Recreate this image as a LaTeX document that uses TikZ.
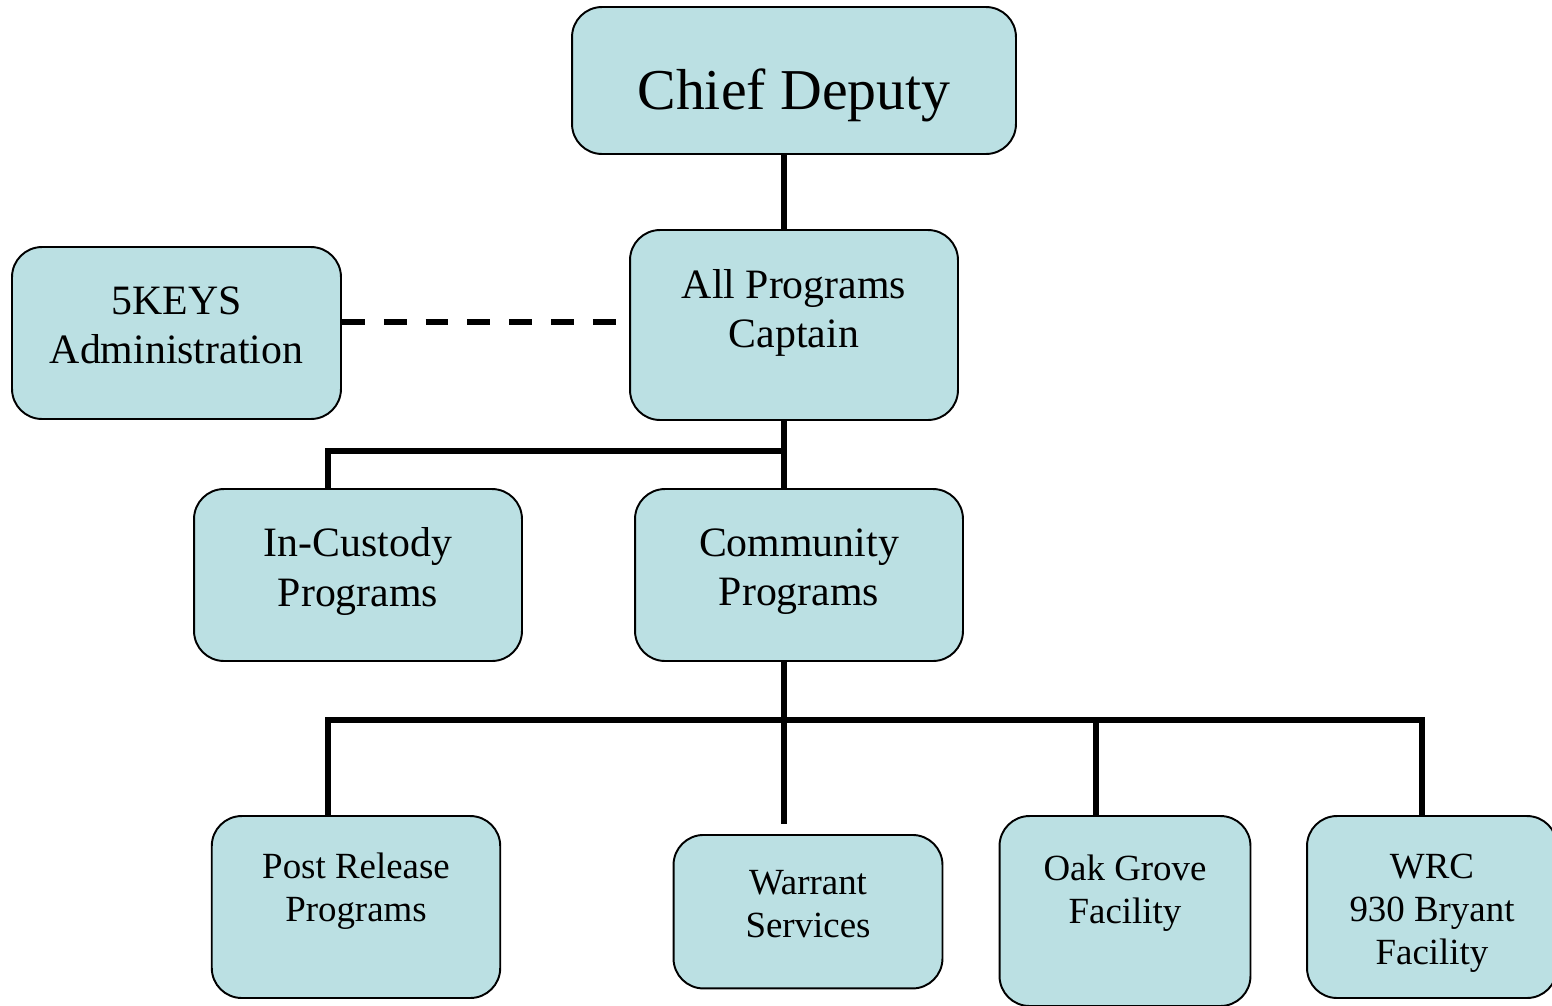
\documentclass[tikz,border=0pt]{standalone}
\usepackage{fontspec}
\setmainfont{Liberation Serif}
\definecolor{nen}{RGB}{187,224,227}
\begin{document}
\begin{tikzpicture}[x=0.02cm,y=-0.02cm,line join=miter,
	o/.style={draw=black,line width=1.1pt,fill=nen,rounded corners=0.6cm,inner sep=0pt},
	noi/.style={line width=3.3pt},
	c1/.style={font=\fontsize{32.9}{40}\selectfont},
	c2/.style={font=\fontsize{23.8}{27.9}\selectfont,align=center},
	c3/.style={font=\fontsize{21}{24.5}\selectfont,align=center}]
	\useasboundingbox (0,0) rectangle (1552,1005);
	%Các ô
	\node[o,minimum width=8.88cm,minimum height=2.94cm,label={[c1,yshift=-0.295cm]center:Chief Deputy}] (CD) at (794,80.5) {};
	\node[o,minimum width=6.56cm,minimum height=3.8cm,label={[c2,yshift=0.246cm]center:All Programs\\Captain}] (CP) at (794,325) {};
	\node[o,minimum width=6.58cm,minimum height=3.44cm,label={[c2,yshift=0.146cm]center:5KEYS\\Administration}] (K) at (176.5,333) {};
	\node[o,minimum width=6.56cm,minimum height=3.44cm,label={[c2,yshift=0.07cm]center:In-Custody\\Programs}] (IC) at (358,575) {};
	\node[o,minimum width=6.56cm,minimum height=3.44cm,label={[c2,yshift=0.07cm]center:Community\\Programs}] (CM) at (799,575) {};
	\foreach \t/\x/\y/\w/\h/\s/\n in {PR/356/907/5.77/3.64/0.316/{Post Release\\Programs},
		WS/808/911.7/5.38/3.07/0.146/{Warrant\\Services},
		OG/1125/911/5.02/3.8/0.366/{Oak Grove\\Facility},
		WR/1432/907/5.0/3.64/-0.118/{WRC\\930 Bryant\\Facility}}{
		\node[o,minimum width=\w cm,minimum height=\h cm,label={[c3,yshift=\s cm]center:\n}] (\t) at (\x,\y) {};}
	%Các đường nối
	\path (784,451) coordinate (A) (328,451) coordinate (B)
	(784,720) coordinate (C) (328,720) coordinate (D)
	(1096,720) coordinate (E) (1422,720) coordinate (F)
	(617,322) coordinate (G);
	\draw[noi] (CD.south -| A) -- (CP.north -| A);
	\draw[noi,dash pattern=on 13pt off 10.8pt] (G -| K.east) -- (G);
	\draw[noi] (CP.south -| A) -- (CM.north -| A) (IC.north -| B) -- (B) -- (A);
	\draw[noi] (CM.south -| C) -- (C) (PR.north -| D) -- (D) -- (F) -- (WR.north -| F) (E) -- (OG.north -| E);
	\draw[noi,shorten >=0.2cm] (C) -- (WS.north -| C);
\end{tikzpicture}
\end{document}
